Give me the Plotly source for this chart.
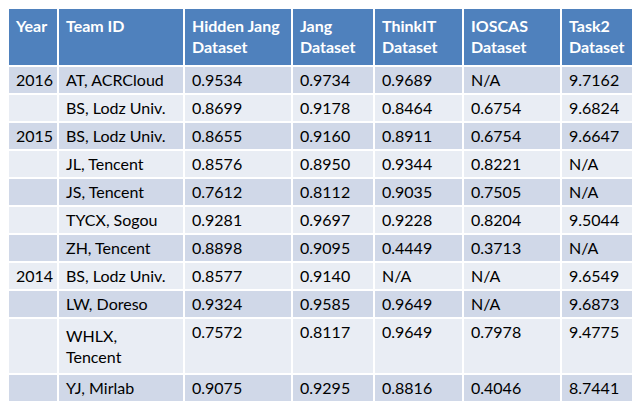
import plotly.graph_objects as go

headers = ["Year", "Team ID", "Hidden Jang<br>Dataset", "Jang<br>Dataset", "ThinkIT<br>Dataset", "IOSCAS<br>Dataset", "Task2<br>Dataset"]
years = ["2016", "", "2015", "", "", "", "", "2014", "", "", "", "2013"]
teams = ["AT, ACRCloud", "BS, Lodz Univ.", "BS, Lodz Univ.", "JL, Tencent", "JS, Tencent", "TYCX, Sogou",
         "ZH, Tencent", "BS, Lodz Univ.", "LW, Doreso", "WHLX, Tencent", "YJ, Mirlab", "LNL, Netease"]
hidden_jang = ["0.9534", "0.8699", "0.8655", "0.8576", "0.7612", "0.9281", "0.8898", "0.8577", "0.9324", "0.7572", "0.9075", "0.8550"]
jang = ["0.9734", "0.9178", "0.9160", "0.8950", "0.8112", "0.9697", "0.9095", "0.9140", "0.9585", "0.8117", "0.9295", "0.8987"]
thinkit = ["0.9689", "0.8464", "0.8911", "0.9344", "0.9035", "0.9228", "0.4449", "N/A", "0.9649", "0.9649", "0.8816", "0.9309"]
ioscas = ["N/A", "0.6754", "0.6754", "0.8221", "0.7505", "0.8204", "0.3713", "N/A", "N/A", "0.7978", "0.4046", "0.8124"]
task2 = ["9.7162", "9.6824", "9.6647", "N/A", "N/A", "9.5044", "N/A", "9.6549", "9.6873", "9.4775", "8.7441", "N/A"]

row_colors = ["#d0d8e8" if i % 2 == 0 else "#e9edf4" for i in range(len(teams))]

fig = go.Figure(go.Table(
    columnwidth=[50, 126, 108, 82, 89, 98, 87],
    header=dict(values=[f"<b>{h}</b>" for h in headers], fill_color="#4f81bd",
                font=dict(color="white", size=16, family="Lato"), align="left",
                line=dict(color="white", width=2), height=58),
    cells=dict(values=[years, teams, hidden_jang, jang, thinkit, ioscas, task2],
               fill_color=[row_colors] * 7, font=dict(color="black", size=16, family="Lato"),
               align="left", line=dict(color="white", width=2), height=28),
    domain=dict(x=[0, 1], y=[0, 1]),
))
fig.update_layout(width=640, height=401, margin=dict(l=0, r=0, t=0, b=0), paper_bgcolor="white")
fig.write_html("out.html")
